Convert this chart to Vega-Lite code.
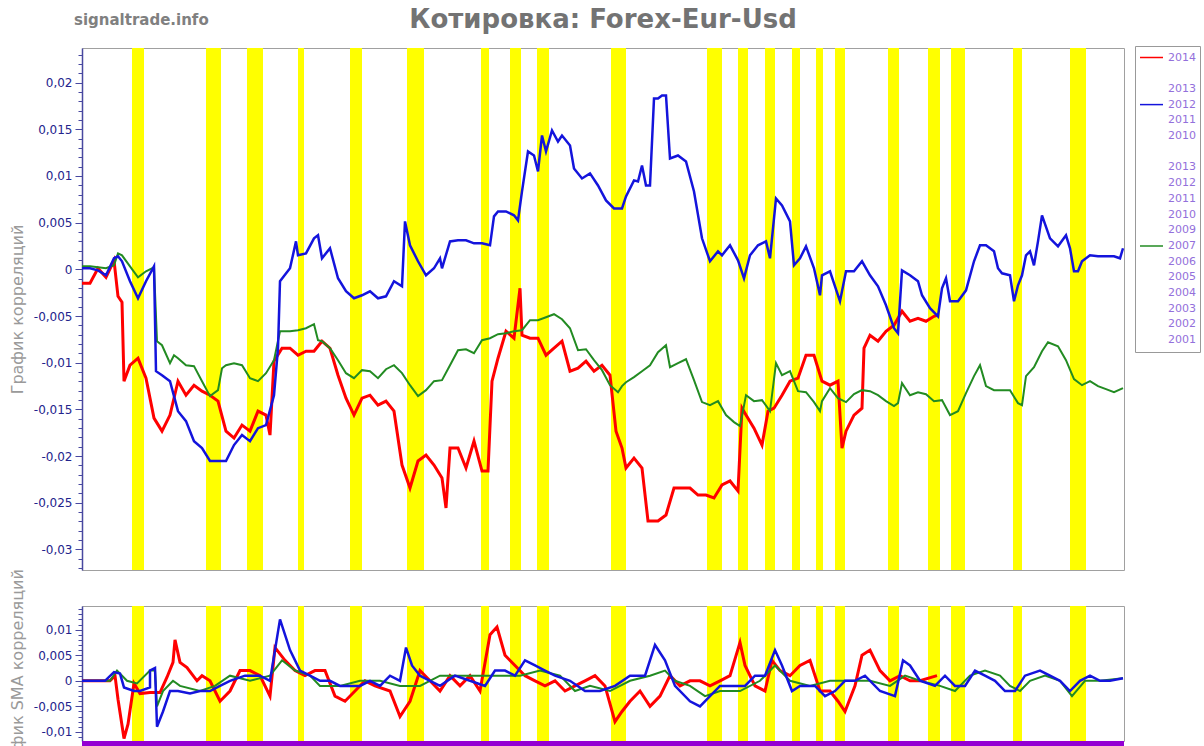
{
  "$schema": "https://vega.github.io/schema/vega-lite/v6.json",
  "background": "white",
  "padding": {"left": 8, "top": 6, "right": 0, "bottom": 0},
  "title": {"text": "Котировка: Forex-Eur-Usd", "font": "DejaVu Sans", "fontSize": 26, "fontWeight": "bold", "color": "#737373", "anchor": "middle", "frame": "group", "offset": -20},
  "config": {"view": {"stroke": "#a0a0a0", "strokeWidth": 1}, "axis": {"labelOverlap": false}},
  "spacing": 36,
  "bounds": "flush",
  "datasets": {
    "bands": [
      {"a": 12.5, "b": 15.5}, {"a": 31, "b": 34.75}, {"a": 41.25, "b": 45.25}, {"a": 54, "b": 55.5},
      {"a": 67, "b": 70}, {"a": 81.25, "b": 85.5}, {"a": 99.75, "b": 101.75}, {"a": 107, "b": 109.75},
      {"a": 113.75, "b": 116.75}, {"a": 132.25, "b": 136}, {"a": 156.25, "b": 160}, {"a": 164, "b": 166.5},
      {"a": 170.75, "b": 173.25}, {"a": 177.5, "b": 179.5}, {"a": 183.5, "b": 185.25}, {"a": 188.25, "b": 190.75},
      {"a": 201.5, "b": 204.25}, {"a": 211.5, "b": 214.5}, {"a": 217.25, "b": 220.75}, {"a": 232.75, "b": 235},
      {"a": 247, "b": 251}
    ],
    "main": [
      {"s":"2014","d":0,"v":-0.0015},{"s":"2014","d":2,"v":-0.0015},{"s":"2014","d":4,"v":0.0001},{"s":"2014","d":6,"v":-0.00086},{"s":"2014","d":8,"v":0.00096},{"s":"2014","d":9,"v":-0.00289},{"s":"2014","d":10,"v":-0.00353},{"s":"2014","d":10.5,"v":-0.01198},{"s":"2014","d":12,"v":-0.01027},{"s":"2014","d":14,"v":-0.00952},{"s":"2014","d":16,"v":-0.01166},{"s":"2014","d":18,"v":-0.01594},{"s":"2014","d":20,"v":-0.01733},{"s":"2014","d":22,"v":-0.01561},{"s":"2014","d":24,"v":-0.01198},{"s":"2014","d":26,"v":-0.01348},{"s":"2014","d":28,"v":-0.01241},{"s":"2014","d":30,"v":-0.01305},{"s":"2014","d":32,"v":-0.01348},{"s":"2014","d":34,"v":-0.01412},{"s":"2014","d":36,"v":-0.01733},{"s":"2014","d":38,"v":-0.01807},{"s":"2014","d":40,"v":-0.01668},{"s":"2014","d":42,"v":-0.01733},{"s":"2014","d":44,"v":-0.01519},{"s":"2014","d":46,"v":-0.01561},{"s":"2014","d":47,"v":-0.01775},{"s":"2014","d":48,"v":-0.00984},{"s":"2014","d":50,"v":-0.00845},{"s":"2014","d":52,"v":-0.00845},{"s":"2014","d":54,"v":-0.0092},{"s":"2014","d":56,"v":-0.00877},{"s":"2014","d":58,"v":-0.00877},{"s":"2014","d":60,"v":-0.0077},{"s":"2014","d":62,"v":-0.00845},{"s":"2014","d":64,"v":-0.01134},{"s":"2014","d":66,"v":-0.0138},{"s":"2014","d":68,"v":-0.01561},{"s":"2014","d":70,"v":-0.0138},{"s":"2014","d":72,"v":-0.01348},{"s":"2014","d":74,"v":-0.01455},{"s":"2014","d":76,"v":-0.01412},{"s":"2014","d":78,"v":-0.01519},{"s":"2014","d":80,"v":-0.02096},{"s":"2014","d":82,"v":-0.02342},{"s":"2014","d":84,"v":-0.02053},{"s":"2014","d":86,"v":-0.01989},{"s":"2014","d":88,"v":-0.02096},{"s":"2014","d":90,"v":-0.02235},{"s":"2014","d":91,"v":-0.02556},{"s":"2014","d":92,"v":-0.01914},{"s":"2014","d":94,"v":-0.01914},{"s":"2014","d":96,"v":-0.02128},{"s":"2014","d":98,"v":-0.0184},{"s":"2014","d":100,"v":-0.0216},{"s":"2014","d":101.5,"v":-0.0216},{"s":"2014","d":102.5,"v":-0.01198},{"s":"2014","d":104,"v":-0.00952},{"s":"2014","d":106,"v":-0.00663},{"s":"2014","d":108,"v":-0.00738},{"s":"2014","d":109.5,"v":-0.00203},{"s":"2014","d":110,"v":-0.00706},{"s":"2014","d":112,"v":-0.00738},{"s":"2014","d":114,"v":-0.00738},{"s":"2014","d":116,"v":-0.0092},{"s":"2014","d":118,"v":-0.00845},{"s":"2014","d":120,"v":-0.0077},{"s":"2014","d":122,"v":-0.01091},{"s":"2014","d":124,"v":-0.01059},{"s":"2014","d":126,"v":-0.00984},{"s":"2014","d":128,"v":-0.01091},{"s":"2014","d":130,"v":-0.01027},{"s":"2014","d":132,"v":-0.01134},{"s":"2014","d":133.5,"v":-0.01733},{"s":"2014","d":135,"v":-0.01914},{"s":"2014","d":136,"v":-0.02128},{"s":"2014","d":138,"v":-0.02021},{"s":"2014","d":140,"v":-0.02128},{"s":"2014","d":141.5,"v":-0.02695},{"s":"2014","d":144,"v":-0.02695},{"s":"2014","d":146,"v":-0.02631},{"s":"2014","d":148,"v":-0.02342},{"s":"2014","d":150,"v":-0.02342},{"s":"2014","d":152,"v":-0.02342},{"s":"2014","d":154,"v":-0.02417},{"s":"2014","d":156,"v":-0.02417},{"s":"2014","d":158,"v":-0.02449},{"s":"2014","d":160,"v":-0.0231},{"s":"2014","d":162,"v":-0.02267},{"s":"2014","d":164,"v":-0.02374},{"s":"2014","d":165,"v":-0.01487},{"s":"2014","d":166,"v":-0.01561},{"s":"2014","d":168,"v":-0.01701},{"s":"2014","d":170,"v":-0.01882},{"s":"2014","d":171.5,"v":-0.01519},{"s":"2014","d":173,"v":-0.01487},{"s":"2014","d":175,"v":-0.01348},{"s":"2014","d":177,"v":-0.01198},{"s":"2014","d":179,"v":-0.01166},{"s":"2014","d":181,"v":-0.0092},{"s":"2014","d":183,"v":-0.0092},{"s":"2014","d":185,"v":-0.01198},{"s":"2014","d":187,"v":-0.01241},{"s":"2014","d":189,"v":-0.01198},{"s":"2014","d":190,"v":-0.01914},{"s":"2014","d":191,"v":-0.01733},{"s":"2014","d":193,"v":-0.01561},{"s":"2014","d":195,"v":-0.01487},{"s":"2014","d":195.5,"v":-0.00845},{"s":"2014","d":197,"v":-0.00706},{"s":"2014","d":199,"v":-0.0077},{"s":"2014","d":201,"v":-0.00663},{"s":"2014","d":203,"v":-0.00599},{"s":"2014","d":205,"v":-0.00449},{"s":"2014","d":207,"v":-0.00556},{"s":"2014","d":209,"v":-0.00524},{"s":"2014","d":211,"v":-0.00556},{"s":"2014","d":213,"v":-0.00503},{"s":"2014","d":213.75,"v":-0.00492},

      {"s":"2012a","d":0,"v":0.00011},{"s":"2012a","d":2,"v":0.00011},{"s":"2012a","d":4,"v":-0.00011},{"s":"2012a","d":6,"v":-0.00064},{"s":"2012a","d":8,"v":0.00118},{"s":"2012a","d":9,"v":0.00139},{"s":"2012a","d":10,"v":0.00086},{"s":"2012a","d":12,"v":-0.00128},{"s":"2012a","d":14,"v":-0.0031},{"s":"2012a","d":16,"v":-0.00128},{"s":"2012a","d":18,"v":0.00032},{"s":"2012a","d":18.5,"v":-0.01091},{"s":"2012a","d":20,"v":-0.01134},{"s":"2012a","d":22,"v":-0.01198},{"s":"2012a","d":24,"v":-0.01519},{"s":"2012a","d":26,"v":-0.01626},{"s":"2012a","d":28,"v":-0.0184},{"s":"2012a","d":30,"v":-0.01914},{"s":"2012a","d":32,"v":-0.02053},{"s":"2012a","d":34,"v":-0.02053},{"s":"2012a","d":36,"v":-0.02053},{"s":"2012a","d":38,"v":-0.01882},{"s":"2012a","d":40,"v":-0.01775},{"s":"2012a","d":42,"v":-0.0184},{"s":"2012a","d":44,"v":-0.01701},{"s":"2012a","d":46,"v":-0.01668},{"s":"2012a","d":48,"v":-0.01348},{"s":"2012a","d":49,"v":-0.00845},{"s":"2012a","d":49.5,"v":-0.00128},{"s":"2012a","d":52,"v":0.00011},{"s":"2012a","d":53.5,"v":0.00299},{"s":"2012a","d":54,"v":0.0015},{"s":"2012a","d":56,"v":0.00171},{"s":"2012a","d":58,"v":0.00332},{"s":"2012a","d":59,"v":0.00364},{"s":"2012a","d":60,"v":0.00118},{"s":"2012a","d":62,"v":0.00225},{"s":"2012a","d":64,"v":-0.00096},{"s":"2012a","d":66,"v":-0.00235},{"s":"2012a","d":68,"v":-0.0031},{"s":"2012a","d":70,"v":-0.00278},{"s":"2012a","d":72,"v":-0.00235},{"s":"2012a","d":74,"v":-0.0031},{"s":"2012a","d":76,"v":-0.00289},{"s":"2012a","d":78,"v":-0.00128},{"s":"2012a","d":80,"v":-0.00182},{"s":"2012a","d":80.75,"v":0.00513},{"s":"2012a","d":82,"v":0.00257},{"s":"2012a","d":84,"v":0.00086},{"s":"2012a","d":86,"v":-0.00064},{"s":"2012a","d":88,"v":0.00011},{"s":"2012a","d":89.5,"v":0.00118},{"s":"2012a","d":90,"v":0.00011},{"s":"2012a","d":92,"v":0.00299},{"s":"2012a","d":94,"v":0.0031},{"s":"2012a","d":96,"v":0.0031},{"s":"2012a","d":98,"v":0.00278},{"s":"2012a","d":100,"v":0.00278},{"s":"2012a","d":102,"v":0.00257},{"s":"2012a","d":103,"v":0.00567},{"s":"2012a","d":104,"v":0.0062},{"s":"2012a","d":106,"v":0.0062},{"s":"2012a","d":108,"v":0.00578},{"s":"2012a","d":109,"v":0.00524},{"s":"2012a","d":110,"v":0.00834},{"s":"2012a","d":111.5,"v":0.01262},{"s":"2012a","d":113,"v":0.01219},{"s":"2012a","d":114,"v":0.01048},{"s":"2012a","d":115,"v":0.01433},{"s":"2012a","d":116,"v":0.01262},{"s":"2012a","d":117.5,"v":0.01487},{"s":"2012a","d":119,"v":0.01369},{"s":"2012a","d":120,"v":0.01433},{"s":"2012a","d":122,"v":0.01326},{"s":"2012a","d":123,"v":0.0108},{"s":"2012a","d":125,"v":0.00973},{"s":"2012a","d":127,"v":0.01027},{"s":"2012a","d":129,"v":0.00898},{"s":"2012a","d":131,"v":0.00738},{"s":"2012a","d":133,"v":0.00652},{"s":"2012a","d":135,"v":0.00652},{"s":"2012a","d":136,"v":0.00781},{"s":"2012a","d":138,"v":0.00952},{"s":"2012a","d":139,"v":0.00941},{"s":"2012a","d":140,"v":0.01112},{"s":"2012a","d":141,"v":0.00898},{"s":"2012a","d":142,"v":0.00898},{"s":"2012a","d":143,"v":0.01829},{"s":"2012a","d":144,"v":0.01829},{"s":"2012a","d":145,"v":0.01861},{"s":"2012a","d":146,"v":0.01861},{"s":"2012a","d":147,"v":0.01187},{"s":"2012a","d":149,"v":0.01219},{"s":"2012a","d":151,"v":0.01155},{"s":"2012a","d":153,"v":0.00834},{"s":"2012a","d":155,"v":0.00332},{"s":"2012a","d":157,"v":0.00086},{"s":"2012a","d":159,"v":0.00193},{"s":"2012a","d":160,"v":0.0015},{"s":"2012a","d":162,"v":0.00257},{"s":"2012a","d":164,"v":0.00096},{"s":"2012a","d":165.5,"v":-0.00096},{"s":"2012a","d":167,"v":0.0015},{"s":"2012a","d":169,"v":0.00257},{"s":"2012a","d":171,"v":0.00299},{"s":"2012a","d":172,"v":0.00118},{"s":"2012a","d":173.5,"v":0.00759},{"s":"2012a","d":175,"v":0.00684},{"s":"2012a","d":177,"v":0.00513},{"s":"2012a","d":178,"v":0.00043},{"s":"2012a","d":179.5,"v":0.00118},{"s":"2012a","d":181,"v":0.00246},{"s":"2012a","d":183,"v":0.00011},{"s":"2012a","d":184.5,"v":-0.00278},{"s":"2012a","d":185,"v":-0.00064},{"s":"2012a","d":187,"v":-0.00021},{"s":"2012a","d":189,"v":-0.00278},{"s":"2012a","d":189.5,"v":-0.00342},{"s":"2012a","d":191,"v":-0.00021},{"s":"2012a","d":193,"v":-0.00021},{"s":"2012a","d":195,"v":0.00086},{"s":"2012a","d":197,"v":-0.00064},{"s":"2012a","d":199,"v":-0.00182},{"s":"2012a","d":201,"v":-0.00385},{"s":"2012a","d":203,"v":-0.00631},{"s":"2012a","d":204,"v":-0.00684},{"s":"2012a","d":205,"v":-0.00011},{"s":"2012a","d":207,"v":-0.00064},{"s":"2012a","d":209,"v":-0.00128},{"s":"2012a","d":210,"v":-0.00278},{"s":"2012a","d":212,"v":-0.00417},{"s":"2012a","d":214,"v":-0.00503},{"s":"2012a","d":215,"v":-0.00203},{"s":"2012a","d":216,"v":-0.00096},{"s":"2012a","d":217,"v":-0.00342},{"s":"2012a","d":219,"v":-0.00342},{"s":"2012a","d":221,"v":-0.00225},{"s":"2012a","d":223,"v":0.00086},{"s":"2012a","d":224.5,"v":0.00257},{"s":"2012a","d":226,"v":0.00257},{"s":"2012a","d":228,"v":0.00193},{"s":"2012a","d":229,"v":0.00011},{"s":"2012a","d":230,"v":-0.00043},{"s":"2012a","d":232,"v":-0.00064},{"s":"2012a","d":233,"v":-0.00342},{"s":"2012a","d":234,"v":-0.00171},{"s":"2012a","d":235,"v":-0.00064},{"s":"2012a","d":236,"v":0.0015},{"s":"2012a","d":237,"v":0.00193},{"s":"2012a","d":238,"v":0.00043},{"s":"2012a","d":239,"v":0.00299},{"s":"2012a","d":240,"v":0.00578},{"s":"2012a","d":242,"v":0.00332},{"s":"2012a","d":244,"v":0.00246},{"s":"2012a","d":246,"v":0.00364},{"s":"2012a","d":247,"v":0.00225},{"s":"2012a","d":248,"v":-0.00021},{"s":"2012a","d":249,"v":-0.00021},{"s":"2012a","d":250,"v":0.00086},{"s":"2012a","d":252,"v":0.0015},{"s":"2012a","d":254,"v":0.00139},{"s":"2012a","d":256,"v":0.00139},{"s":"2012a","d":258,"v":0.00139},{"s":"2012a","d":259.5,"v":0.00118},{"s":"2012a","d":260.25,"v":0.00225},

      {"s":"2007b","d":0,"v":0.00032},{"s":"2007b","d":2,"v":0.00032},{"s":"2007b","d":4,"v":0.00021},{"s":"2007b","d":6,"v":0.00011},{"s":"2007b","d":8,"v":0.00043},{"s":"2007b","d":9,"v":0.00171},{"s":"2007b","d":10,"v":0.0015},{"s":"2007b","d":12,"v":0.00032},{"s":"2007b","d":14,"v":-0.00086},{"s":"2007b","d":16,"v":-0.00021},{"s":"2007b","d":18,"v":0.00021},{"s":"2007b","d":18.75,"v":-0.0077},{"s":"2007b","d":20,"v":-0.00813},{"s":"2007b","d":22,"v":-0.01005},{"s":"2007b","d":23,"v":-0.0092},{"s":"2007b","d":24,"v":-0.00952},{"s":"2007b","d":26,"v":-0.01027},{"s":"2007b","d":28,"v":-0.01037},{"s":"2007b","d":30,"v":-0.01198},{"s":"2007b","d":32,"v":-0.01358},{"s":"2007b","d":34,"v":-0.01294},{"s":"2007b","d":35,"v":-0.01059},{"s":"2007b","d":36,"v":-0.01027},{"s":"2007b","d":38,"v":-0.01005},{"s":"2007b","d":40,"v":-0.01027},{"s":"2007b","d":42,"v":-0.01166},{"s":"2007b","d":44,"v":-0.01198},{"s":"2007b","d":46,"v":-0.01112},{"s":"2007b","d":48,"v":-0.00973},{"s":"2007b","d":49.5,"v":-0.00663},{"s":"2007b","d":52,"v":-0.00663},{"s":"2007b","d":54,"v":-0.00652},{"s":"2007b","d":56,"v":-0.00631},{"s":"2007b","d":58,"v":-0.00588},{"s":"2007b","d":59,"v":-0.00759},{"s":"2007b","d":60,"v":-0.0077},{"s":"2007b","d":62,"v":-0.00845},{"s":"2007b","d":64,"v":-0.00973},{"s":"2007b","d":66,"v":-0.01112},{"s":"2007b","d":68,"v":-0.01166},{"s":"2007b","d":70,"v":-0.0108},{"s":"2007b","d":72,"v":-0.01091},{"s":"2007b","d":74,"v":-0.01166},{"s":"2007b","d":76,"v":-0.0107},{"s":"2007b","d":78,"v":-0.01027},{"s":"2007b","d":80,"v":-0.01112},{"s":"2007b","d":82,"v":-0.01241},{"s":"2007b","d":84,"v":-0.01358},{"s":"2007b","d":86,"v":-0.01294},{"s":"2007b","d":88,"v":-0.01198},{"s":"2007b","d":90,"v":-0.01187},{"s":"2007b","d":92,"v":-0.01027},{"s":"2007b","d":94,"v":-0.00866},{"s":"2007b","d":96,"v":-0.00856},{"s":"2007b","d":98,"v":-0.00898},{"s":"2007b","d":100,"v":-0.00759},{"s":"2007b","d":102,"v":-0.00738},{"s":"2007b","d":104,"v":-0.00695},{"s":"2007b","d":106,"v":-0.00684},{"s":"2007b","d":108,"v":-0.00663},{"s":"2007b","d":110,"v":-0.00652},{"s":"2007b","d":112,"v":-0.00545},{"s":"2007b","d":114,"v":-0.00545},{"s":"2007b","d":116,"v":-0.00513},{"s":"2007b","d":118,"v":-0.00481},{"s":"2007b","d":120,"v":-0.00535},{"s":"2007b","d":122,"v":-0.00631},{"s":"2007b","d":124,"v":-0.00866},{"s":"2007b","d":126,"v":-0.00856},{"s":"2007b","d":128,"v":-0.00973},{"s":"2007b","d":130,"v":-0.0108},{"s":"2007b","d":132,"v":-0.01241},{"s":"2007b","d":134,"v":-0.01316},{"s":"2007b","d":135,"v":-0.01251},{"s":"2007b","d":136,"v":-0.01209},{"s":"2007b","d":138,"v":-0.01155},{"s":"2007b","d":140,"v":-0.01091},{"s":"2007b","d":142,"v":-0.01027},{"s":"2007b","d":144,"v":-0.00888},{"s":"2007b","d":146,"v":-0.00813},{"s":"2007b","d":147,"v":-0.01048},{"s":"2007b","d":149,"v":-0.01005},{"s":"2007b","d":151,"v":-0.00963},{"s":"2007b","d":153,"v":-0.01187},{"s":"2007b","d":155,"v":-0.01422},{"s":"2007b","d":157,"v":-0.01455},{"s":"2007b","d":159,"v":-0.01412},{"s":"2007b","d":161,"v":-0.01561},{"s":"2007b","d":163,"v":-0.01636},{"s":"2007b","d":164.5,"v":-0.01679},{"s":"2007b","d":166,"v":-0.01348},{"s":"2007b","d":168,"v":-0.01412},{"s":"2007b","d":170,"v":-0.01401},{"s":"2007b","d":172,"v":-0.01519},{"s":"2007b","d":173.5,"v":-0.01005},{"s":"2007b","d":175,"v":-0.01134},{"s":"2007b","d":177,"v":-0.01091},{"s":"2007b","d":179,"v":-0.01305},{"s":"2007b","d":181,"v":-0.01316},{"s":"2007b","d":183,"v":-0.01422},{"s":"2007b","d":184.5,"v":-0.01519},{"s":"2007b","d":185,"v":-0.01412},{"s":"2007b","d":187,"v":-0.01273},{"s":"2007b","d":189,"v":-0.0138},{"s":"2007b","d":191,"v":-0.01422},{"s":"2007b","d":193,"v":-0.01337},{"s":"2007b","d":195,"v":-0.01294},{"s":"2007b","d":197,"v":-0.01305},{"s":"2007b","d":199,"v":-0.01348},{"s":"2007b","d":201,"v":-0.01412},{"s":"2007b","d":203,"v":-0.01465},{"s":"2007b","d":204,"v":-0.01433},{"s":"2007b","d":205,"v":-0.01219},{"s":"2007b","d":207,"v":-0.01348},{"s":"2007b","d":209,"v":-0.01316},{"s":"2007b","d":211,"v":-0.01337},{"s":"2007b","d":213,"v":-0.01412},{"s":"2007b","d":215,"v":-0.01401},{"s":"2007b","d":217,"v":-0.01561},{"s":"2007b","d":219,"v":-0.01519},{"s":"2007b","d":221,"v":-0.01326},{"s":"2007b","d":223,"v":-0.01144},{"s":"2007b","d":224.5,"v":-0.01027},{"s":"2007b","d":226,"v":-0.01251},{"s":"2007b","d":228,"v":-0.01294},{"s":"2007b","d":230,"v":-0.01294},{"s":"2007b","d":232,"v":-0.01294},{"s":"2007b","d":234,"v":-0.01433},{"s":"2007b","d":235,"v":-0.01455},{"s":"2007b","d":236,"v":-0.01144},{"s":"2007b","d":238,"v":-0.01048},{"s":"2007b","d":240,"v":-0.00877},{"s":"2007b","d":241.5,"v":-0.00781},{"s":"2007b","d":244,"v":-0.00824},{"s":"2007b","d":246,"v":-0.00973},{"s":"2007b","d":248,"v":-0.01176},{"s":"2007b","d":250,"v":-0.01241},{"s":"2007b","d":252,"v":-0.01198},{"s":"2007b","d":254,"v":-0.01251},{"s":"2007b","d":256,"v":-0.01283},{"s":"2007b","d":258,"v":-0.01316},{"s":"2007b","d":260.25,"v":-0.01273}
    ],
    "sma": [
      {"s":"2014","d":0,"v":0},{"s":"2014","d":7,"v":0},{"s":"2014","d":8.25,"v":0.001},{"s":"2014","d":9,"v":-0.0036},{"s":"2014","d":10.5,"v":-0.0113},{"s":"2014","d":11.5,"v":-0.0085},{"s":"2014","d":13,"v":-0.0005},{"s":"2014","d":14.5,"v":-0.0025},{"s":"2014","d":17,"v":-0.0023},{"s":"2014","d":19.5,"v":-0.0023},{"s":"2014","d":21.25,"v":0.0007},{"s":"2014","d":22.75,"v":0.0036},{"s":"2014","d":23.25,"v":0.008},{"s":"2014","d":24.5,"v":0.0036},{"s":"2014","d":26.25,"v":0.0026},{"s":"2014","d":28.75,"v":0},{"s":"2014","d":30,"v":0.001},{"s":"2014","d":32,"v":0},{"s":"2014","d":34.5,"v":-0.004},{"s":"2014","d":37,"v":-0.002},{"s":"2014","d":39.5,"v":0.002},{"s":"2014","d":42,"v":0.002},{"s":"2014","d":44.5,"v":0.001},{"s":"2014","d":47,"v":-0.003},{"s":"2014","d":48.25,"v":0.0065},{"s":"2014","d":50.75,"v":0.004},{"s":"2014","d":53.25,"v":0.002},{"s":"2014","d":55.75,"v":0.001},{"s":"2014","d":58.25,"v":0.002},{"s":"2014","d":60.75,"v":0.002},{"s":"2014","d":63.25,"v":-0.003},{"s":"2014","d":65.75,"v":-0.004},{"s":"2014","d":68.25,"v":-0.002},{"s":"2014","d":70.75,"v":0},{"s":"2014","d":73.25,"v":-0.001},{"s":"2014","d":77,"v":-0.002},{"s":"2014","d":79.5,"v":-0.007},{"s":"2014","d":82,"v":-0.004},{"s":"2014","d":84.5,"v":0.002},{"s":"2014","d":87,"v":0},{"s":"2014","d":89.5,"v":-0.002},{"s":"2014","d":92,"v":0.001},{"s":"2014","d":94.5,"v":-0.001},{"s":"2014","d":97,"v":0.001},{"s":"2014","d":99.5,"v":-0.002},{"s":"2014","d":102,"v":0.009},{"s":"2014","d":103.75,"v":0.0105},{"s":"2014","d":105.75,"v":0.005},{"s":"2014","d":108.25,"v":0.003},{"s":"2014","d":110.75,"v":0.001},{"s":"2014","d":113.25,"v":0},{"s":"2014","d":115.75,"v":-0.001},{"s":"2014","d":118.25,"v":0},{"s":"2014","d":120.75,"v":-0.002},{"s":"2014","d":123.25,"v":-0.001},{"s":"2014","d":125.75,"v":0},{"s":"2014","d":128.25,"v":0.001},{"s":"2014","d":130.75,"v":-0.001},{"s":"2014","d":133.25,"v":-0.008},{"s":"2014","d":135,"v":-0.006},{"s":"2014","d":137,"v":-0.004},{"s":"2014","d":139.5,"v":-0.002},{"s":"2014","d":142,"v":-0.005},{"s":"2014","d":144.5,"v":-0.003},{"s":"2014","d":147,"v":0.001},{"s":"2014","d":149.5,"v":-0.001},{"s":"2014","d":152,"v":0},{"s":"2014","d":154.5,"v":0},{"s":"2014","d":157,"v":-0.001},{"s":"2014","d":159.5,"v":0},{"s":"2014","d":162,"v":0.001},{"s":"2014","d":164.5,"v":0.0075},{"s":"2014","d":165.75,"v":0.003},{"s":"2014","d":168.25,"v":-0.001},{"s":"2014","d":170.75,"v":-0.002},{"s":"2014","d":172.5,"v":0.004},{"s":"2014","d":174.5,"v":0.002},{"s":"2014","d":177,"v":0.001},{"s":"2014","d":179.5,"v":0.003},{"s":"2014","d":182,"v":0.004},{"s":"2014","d":184.5,"v":-0.002},{"s":"2014","d":187,"v":-0.002},{"s":"2014","d":189,"v":-0.004},{"s":"2014","d":190.75,"v":-0.006},{"s":"2014","d":193.25,"v":-0.001},{"s":"2014","d":195,"v":0.005},{"s":"2014","d":197,"v":0.006},{"s":"2014","d":199.5,"v":0.002},{"s":"2014","d":202,"v":0},{"s":"2014","d":204.5,"v":0.001},{"s":"2014","d":207,"v":0},{"s":"2014","d":209.5,"v":0},{"s":"2014","d":213.75,"v":0.001},

      {"s":"2012a","d":0,"v":0},{"s":"2012a","d":5.75,"v":0},{"s":"2012a","d":8,"v":0.0017},{"s":"2012a","d":9.5,"v":0.0014},{"s":"2012a","d":10.5,"v":-0.0013},{"s":"2012a","d":13,"v":-0.002},{"s":"2012a","d":14.5,"v":-0.002},{"s":"2012a","d":17,"v":-0.0013},{"s":"2012a","d":17,"v":0.002},{"s":"2012a","d":18.25,"v":0.0025},{"s":"2012a","d":18.75,"v":-0.009},{"s":"2012a","d":20.25,"v":-0.006},{"s":"2012a","d":22,"v":-0.002},{"s":"2012a","d":24,"v":-0.002},{"s":"2012a","d":27,"v":-0.0025},{"s":"2012a","d":29.5,"v":-0.002},{"s":"2012a","d":32,"v":-0.002},{"s":"2012a","d":34.5,"v":-0.001},{"s":"2012a","d":37,"v":0},{"s":"2012a","d":40.75,"v":0.001},{"s":"2012a","d":44.5,"v":0.001},{"s":"2012a","d":47,"v":0},{"s":"2012a","d":49.5,"v":0.012},{"s":"2012a","d":52,"v":0.006},{"s":"2012a","d":54.5,"v":0.002},{"s":"2012a","d":57,"v":0.001},{"s":"2012a","d":59.5,"v":0},{"s":"2012a","d":62,"v":0},{"s":"2012a","d":64.5,"v":-0.001},{"s":"2012a","d":67,"v":-0.001},{"s":"2012a","d":69.5,"v":-0.001},{"s":"2012a","d":72,"v":0},{"s":"2012a","d":74.5,"v":-0.001},{"s":"2012a","d":77,"v":0.001},{"s":"2012a","d":79.5,"v":0},{"s":"2012a","d":81,"v":0.0065},{"s":"2012a","d":82.5,"v":0.003},{"s":"2012a","d":84.5,"v":0.001},{"s":"2012a","d":87,"v":0},{"s":"2012a","d":89.5,"v":-0.001},{"s":"2012a","d":93.25,"v":0.001},{"s":"2012a","d":97,"v":0},{"s":"2012a","d":100.75,"v":-0.001},{"s":"2012a","d":103.25,"v":0.002},{"s":"2012a","d":105.75,"v":0.002},{"s":"2012a","d":108.25,"v":0.001},{"s":"2012a","d":110.75,"v":0.004},{"s":"2012a","d":113.25,"v":0.003},{"s":"2012a","d":115.75,"v":0.002},{"s":"2012a","d":118.25,"v":0.001},{"s":"2012a","d":122,"v":0},{"s":"2012a","d":125.75,"v":-0.002},{"s":"2012a","d":129.5,"v":-0.002},{"s":"2012a","d":133.25,"v":-0.001},{"s":"2012a","d":137,"v":0.001},{"s":"2012a","d":140.75,"v":0.001},{"s":"2012a","d":143.25,"v":0.007},{"s":"2012a","d":145.75,"v":0.004},{"s":"2012a","d":148.25,"v":-0.001},{"s":"2012a","d":152,"v":-0.004},{"s":"2012a","d":154.5,"v":-0.005},{"s":"2012a","d":157,"v":-0.003},{"s":"2012a","d":159.5,"v":-0.001},{"s":"2012a","d":162,"v":-0.001},{"s":"2012a","d":165.75,"v":-0.001},{"s":"2012a","d":168.25,"v":0.001},{"s":"2012a","d":170.75,"v":0.001},{"s":"2012a","d":173.25,"v":0.006},{"s":"2012a","d":175,"v":0.003},{"s":"2012a","d":177.5,"v":-0.002},{"s":"2012a","d":179.5,"v":-0.001},{"s":"2012a","d":183.25,"v":-0.001},{"s":"2012a","d":185.75,"v":-0.003},{"s":"2012a","d":188.25,"v":-0.002},{"s":"2012a","d":190.75,"v":0},{"s":"2012a","d":193.25,"v":0},{"s":"2012a","d":195.75,"v":0.001},{"s":"2012a","d":199.5,"v":-0.002},{"s":"2012a","d":203.25,"v":-0.003},{"s":"2012a","d":205.25,"v":0.004},{"s":"2012a","d":207,"v":0.003},{"s":"2012a","d":209.5,"v":0},{"s":"2012a","d":213.25,"v":-0.001},{"s":"2012a","d":215.75,"v":0.001},{"s":"2012a","d":218.25,"v":-0.001},{"s":"2012a","d":220.75,"v":-0.001},{"s":"2012a","d":223.25,"v":0.002},{"s":"2012a","d":225.75,"v":0.001},{"s":"2012a","d":228.25,"v":0},{"s":"2012a","d":230.75,"v":-0.002},{"s":"2012a","d":233.25,"v":-0.002},{"s":"2012a","d":235.75,"v":0.001},{"s":"2012a","d":239.5,"v":0.002},{"s":"2012a","d":242,"v":0.001},{"s":"2012a","d":244.5,"v":0},{"s":"2012a","d":247,"v":-0.002},{"s":"2012a","d":249.5,"v":0},{"s":"2012a","d":252,"v":0.001},{"s":"2012a","d":254.5,"v":0},{"s":"2012a","d":257,"v":0},{"s":"2012a","d":260.25,"v":0.0005},

      {"s":"2007b","d":0,"v":0},{"s":"2007b","d":7,"v":0},{"s":"2007b","d":8.75,"v":0.002},{"s":"2007b","d":11.25,"v":0},{"s":"2007b","d":13.75,"v":-0.0005},{"s":"2007b","d":17,"v":0.002},{"s":"2007b","d":18.25,"v":0.002},{"s":"2007b","d":18.75,"v":-0.005},{"s":"2007b","d":20.25,"v":-0.002},{"s":"2007b","d":22.75,"v":0},{"s":"2007b","d":24.5,"v":-0.001},{"s":"2007b","d":29.5,"v":-0.002},{"s":"2007b","d":33.25,"v":-0.001},{"s":"2007b","d":37,"v":0.001},{"s":"2007b","d":42,"v":0},{"s":"2007b","d":47,"v":0.001},{"s":"2007b","d":50,"v":0.004},{"s":"2007b","d":53.25,"v":0.002},{"s":"2007b","d":57,"v":0.001},{"s":"2007b","d":59.5,"v":-0.001},{"s":"2007b","d":64.5,"v":-0.001},{"s":"2007b","d":69.5,"v":0},{"s":"2007b","d":74.5,"v":0},{"s":"2007b","d":79.5,"v":-0.001},{"s":"2007b","d":84.5,"v":-0.001},{"s":"2007b","d":89.5,"v":0.001},{"s":"2007b","d":94.5,"v":0.001},{"s":"2007b","d":99.5,"v":0.001},{"s":"2007b","d":104.5,"v":0.001},{"s":"2007b","d":109.5,"v":0.001},{"s":"2007b","d":114.5,"v":0.002},{"s":"2007b","d":119.5,"v":0.001},{"s":"2007b","d":123.25,"v":-0.002},{"s":"2007b","d":127,"v":-0.001},{"s":"2007b","d":132,"v":-0.002},{"s":"2007b","d":137,"v":0},{"s":"2007b","d":142,"v":0.001},{"s":"2007b","d":145.75,"v":0.002},{"s":"2007b","d":148.25,"v":0},{"s":"2007b","d":152,"v":-0.001},{"s":"2007b","d":155.75,"v":-0.003},{"s":"2007b","d":159.5,"v":-0.002},{"s":"2007b","d":164.5,"v":-0.002},{"s":"2007b","d":169.5,"v":0},{"s":"2007b","d":173.25,"v":0.003},{"s":"2007b","d":177,"v":0},{"s":"2007b","d":182,"v":-0.001},{"s":"2007b","d":187,"v":0},{"s":"2007b","d":192,"v":0},{"s":"2007b","d":197,"v":0},{"s":"2007b","d":202,"v":-0.001},{"s":"2007b","d":205.75,"v":0.001},{"s":"2007b","d":209.5,"v":0},{"s":"2007b","d":214.5,"v":-0.001},{"s":"2007b","d":218.25,"v":-0.002},{"s":"2007b","d":222,"v":0.001},{"s":"2007b","d":225.75,"v":0.002},{"s":"2007b","d":229.5,"v":0.001},{"s":"2007b","d":232,"v":-0.001},{"s":"2007b","d":234.5,"v":-0.002},{"s":"2007b","d":237,"v":0},{"s":"2007b","d":240.75,"v":0.001},{"s":"2007b","d":244.5,"v":0},{"s":"2007b","d":247.5,"v":-0.003},{"s":"2007b","d":250.75,"v":0},{"s":"2007b","d":254.5,"v":0},{"s":"2007b","d":260.25,"v":0.0005}
    ]
  },
  "vconcat": [
    {
      "width": 1042,
      "height": 522,
      "title": {"text": "signaltrade.info", "font": "DejaVu Sans", "fontSize": 15, "fontWeight": "bold", "color": "#808080", "anchor": "start", "frame": "group", "dx": -8, "offset": 20},
      "resolve": {"axis": {"y": "independent"}},
      "layer": [
        {
          "data": {"name": "bands"},
          "mark": {"type": "rect", "color": "#ffff00"},
          "encoding": {
            "x": {"field": "a", "type": "quantitative", "scale": {"domain": [0, 260.5], "nice": false, "zero": false}, "axis": null},
            "x2": {"field": "b"}
          }
        },
        {
          "data": {"name": "main"},
          "transform": [{"filter": "datum.s == '2014'"}],
          "mark": {"type": "line", "strokeWidth": 3, "clip": true},
          "encoding": {
            "x": {"field": "d", "type": "quantitative"},
            "y": {"field": "v", "type": "quantitative", "scale": {"domain": [-0.0322, 0.0237], "nice": false, "zero": false},
              "axis": {"orient": "left", "title": "График корреляций", "titleColor": "#9a9a9a", "titleFont": "DejaVu Sans", "titleFontSize": 16, "titleFontWeight": "normal", "titleX": -57,
                "values": [-0.03,-0.025,-0.02,-0.015,-0.01,-0.005,0,0.005,0.01,0.015,0.02],
                "labelExpr": "replace(datum.value+'', '.', ',')",
                "tickSize": 7, "labelOverlap": false, "labelFont": "DejaVu Sans", "labelFontSize": 12, "labelColor": "#23238c", "labelPadding": 3,
                "tickColor": "#4848a0", "domainColor": "#4848a0", "domainWidth": 1.5, "grid": false}},
            "color": {"field": "s", "type": "nominal",
              "scale": {"domain": ["2014","g1","2013a","2012a","2011a","2010a","g2","2013b","2012b","2011b","2010b","2009b","2007b","2006b","2005b","2004b","2003b","2002b","2001b"],
                "range": ["#ff0000","transparent","transparent","#1414dc","transparent","transparent","transparent","transparent","transparent","transparent","transparent","transparent","#228b22","transparent","transparent","transparent","transparent","transparent","transparent"]},
              "legend": {"orient": "none", "legendX": 1053, "legendY": -2, "title": null, "symbolType": "stroke", "symbolSize": 529, "symbolStrokeWidth": 1.5,
                "labelExpr": "substring(datum.label, 0, 1) == 'g' ? '' : substring(datum.label, 0, 4)",
                "labelColor": "#9370db", "labelFont": "DejaVu Sans", "labelFontSize": 11, "labelOffset": 4, "rowPadding": 0.7, "clipHeight": 15,
                "strokeColor": "#999999", "padding": 4}}
          }
        },
        {
          "data": {"name": "main"},
          "transform": [{"filter": "datum.s == '2007b'"}],
          "mark": {"type": "line", "strokeWidth": 2, "clip": true},
          "encoding": {
            "x": {"field": "d", "type": "quantitative"},
            "y": {"field": "v", "type": "quantitative",
              "axis": {"orient": "left", "title": null, "labels": false, "domain": false, "grid": false, "tickSize": 4, "tickColor": "#4848a0",
                "values": [-0.032,-0.031,-0.03,-0.029,-0.028,-0.027,-0.026,-0.025,-0.024,-0.023,-0.022,-0.021,-0.02,-0.019,-0.018,-0.017,-0.016,-0.015,-0.014,-0.013,-0.012,-0.011,-0.01,-0.009,-0.008,-0.007,-0.006,-0.005,-0.004,-0.003,-0.002,-0.001,0,0.001,0.002,0.003,0.004,0.005,0.006,0.007,0.008,0.009,0.01,0.011,0.012,0.013,0.014,0.015,0.016,0.017,0.018,0.019,0.02,0.021,0.022,0.023]}},
            "color": {"field": "s", "type": "nominal"}
          }
        },
        {
          "data": {"name": "main"},
          "transform": [{"filter": "datum.s == '2012a'"}],
          "mark": {"type": "line", "strokeWidth": 2.5, "clip": true},
          "encoding": {
            "x": {"field": "d", "type": "quantitative"},
            "y": {"field": "v", "type": "quantitative", "axis": null},
            "color": {"field": "s", "type": "nominal"}
          }
        }
      ]
    },
    {
      "spacing": 0,
      "bounds": "flush",
      "vconcat": [
        {
          "width": 1042,
          "height": 135,
          "resolve": {"axis": {"y": "independent"}},
          "layer": [
            {
              "data": {"name": "bands"},
              "mark": {"type": "rect", "color": "#ffff00"},
              "encoding": {
                "x": {"field": "a", "type": "quantitative", "scale": {"domain": [0, 260.5], "nice": false, "zero": false}, "axis": null},
                "x2": {"field": "b"}
              }
            },
            {
              "data": {"name": "sma"},
              "transform": [{"filter": "datum.s == '2014'"}],
              "mark": {"type": "line", "strokeWidth": 3, "clip": true},
              "encoding": {
                "x": {"field": "d", "type": "quantitative"},
                "y": {"field": "v", "type": "quantitative", "scale": {"domain": [-0.01177, 0.01462], "nice": false, "zero": false},
                  "axis": {"orient": "left", "title": "График SMA корреляций", "titleColor": "#9a9a9a", "titleFont": "DejaVu Sans", "titleFontSize": 16, "titleFontWeight": "normal", "titleX": -57,
                    "values": [-0.01,-0.005,0,0.005,0.01],
                    "labelExpr": "replace(datum.value+'', '.', ',')",
                    "tickSize": 7, "labelOverlap": false, "labelFont": "DejaVu Sans", "labelFontSize": 12, "labelColor": "#23238c", "labelPadding": 3,
                    "tickColor": "#4848a0", "domainColor": "#4848a0", "domainWidth": 1.5, "grid": false}},
                "color": {"field": "s", "type": "nominal"}
              }
            },
            {
              "data": {"name": "sma"},
              "transform": [{"filter": "datum.s == '2007b'"}],
              "mark": {"type": "line", "strokeWidth": 2, "clip": true},
              "encoding": {
                "x": {"field": "d", "type": "quantitative"},
                "y": {"field": "v", "type": "quantitative",
                  "axis": {"orient": "left", "title": null, "labels": false, "domain": false, "grid": false, "tickSize": 4, "tickColor": "#4848a0",
                    "values": [-0.011,-0.01,-0.009,-0.008,-0.007,-0.006,-0.005,-0.004,-0.003,-0.002,-0.001,0,0.001,0.002,0.003,0.004,0.005,0.006,0.007,0.008,0.009,0.01,0.011,0.012,0.013,0.014]}},
                "color": {"field": "s", "type": "nominal"}
              }
            },
            {
              "data": {"name": "sma"},
              "transform": [{"filter": "datum.s == '2012a'"}],
              "mark": {"type": "line", "strokeWidth": 2.5, "clip": true},
              "encoding": {
                "x": {"field": "d", "type": "quantitative"},
                "y": {"field": "v", "type": "quantitative", "axis": null},
                "color": {"field": "s", "type": "nominal"}
              }
            }
          ]
        },
        {
          "width": 1042,
          "height": 12,
          "view": {"stroke": null},
          "data": {"values": [{"a": 0, "b": 260.5}]},
          "mark": {"type": "rect", "color": "#9400d3"},
          "encoding": {
            "x": {"field": "a", "type": "quantitative", "scale": {"domain": [0, 260.5], "nice": false, "zero": false}, "axis": null},
            "x2": {"field": "b"}
          }
        }
      ]
    }
  ],
  "resolve": {"scale": {"y": "independent", "color": "shared"}}
}
